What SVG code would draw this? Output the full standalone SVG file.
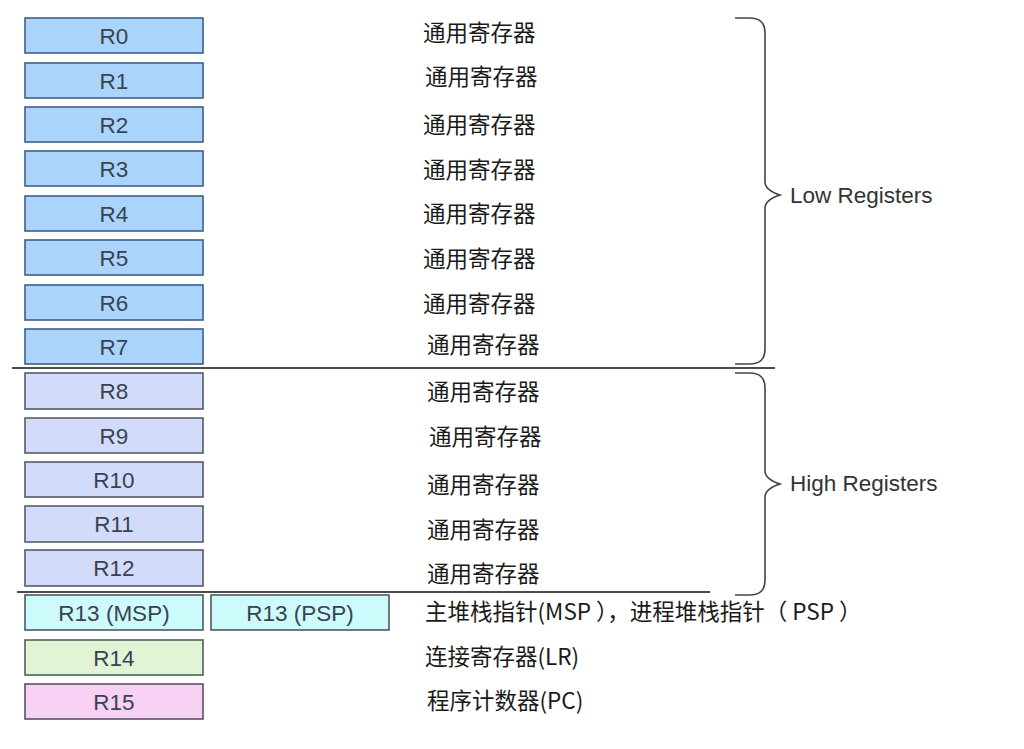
<svg xmlns="http://www.w3.org/2000/svg" width="1024" height="749" viewBox="0 0 1024 749">
<style>
.box{stroke-width:1.6}
.low{fill:#aad4fc;stroke:#3b5f86}
.high{fill:#d2dcfa;stroke:#555a66}
.sp{fill:#cdfafa;stroke:#4a5a66}
.lr{fill:#e1f4d6;stroke:#55605a}
.pc{fill:#f6d1f4;stroke:#5a5060}
.lbl{font-family:"Liberation Sans",Arial,sans-serif;font-size:22.5px;fill:#3a4250;text-anchor:middle}
.desc{font-family:"Noto Sans CJK SC","Noto Sans",sans-serif;font-size:22.5px;fill:#1a1a1a}
.grp{font-family:"Liberation Sans",Arial,sans-serif;font-size:22.5px;fill:#333}
.brace{fill:none;stroke:#444;stroke-width:1.6}
.sep{stroke:#111;stroke-width:1.5}
</style>
<rect width="1024" height="749" fill="#fff"/>
<g id="r0"><rect class="box low" x="25" y="18" width="178" height="35"/><text class="lbl" x="114" y="44">R0</text><text class="desc" x="423" y="41">通用寄存器</text></g>
<g id="r1"><rect class="box low" x="25" y="63" width="178" height="35"/><text class="lbl" x="114" y="89">R1</text><text class="desc" x="425" y="85">通用寄存器</text></g>
<g id="r2"><rect class="box low" x="25" y="107" width="178" height="35"/><text class="lbl" x="114" y="133">R2</text><text class="desc" x="423" y="133">通用寄存器</text></g>
<g id="r3"><rect class="box low" x="25" y="151" width="178" height="35"/><text class="lbl" x="114" y="177">R3</text><text class="desc" x="423" y="178">通用寄存器</text></g>
<g id="r4"><rect class="box low" x="25" y="196" width="178" height="35"/><text class="lbl" x="114" y="222">R4</text><text class="desc" x="423" y="222">通用寄存器</text></g>
<g id="r5"><rect class="box low" x="25" y="240" width="178" height="35"/><text class="lbl" x="114" y="266">R5</text><text class="desc" x="423" y="267">通用寄存器</text></g>
<g id="r6"><rect class="box low" x="25" y="285" width="178" height="35"/><text class="lbl" x="114" y="311">R6</text><text class="desc" x="423" y="312">通用寄存器</text></g>
<g id="r7"><rect class="box low" x="25" y="329" width="178" height="35"/><text class="lbl" x="114" y="355">R7</text><text class="desc" x="427" y="353">通用寄存器</text></g>
<g id="r8"><rect class="box high" x="25" y="373" width="178" height="36"/><text class="lbl" x="114" y="399">R8</text><text class="desc" x="427" y="400">通用寄存器</text></g>
<g id="r9"><rect class="box high" x="25" y="418" width="178" height="35"/><text class="lbl" x="114" y="444">R9</text><text class="desc" x="429" y="445">通用寄存器</text></g>
<g id="r10"><rect class="box high" x="25" y="462" width="178" height="35"/><text class="lbl" x="114" y="488">R10</text><text class="desc" x="427" y="493">通用寄存器</text></g>
<g id="r11"><rect class="box high" x="25" y="506" width="178" height="36"/><text class="lbl" x="114" y="532">R11</text><text class="desc" x="427" y="538">通用寄存器</text></g>
<g id="r12"><rect class="box high" x="25" y="550" width="178" height="36"/><text class="lbl" x="114" y="576">R12</text><text class="desc" x="427" y="582">通用寄存器</text></g>
<g id="r13msp"><rect class="box sp" x="25" y="595" width="178" height="35"/><text class="lbl" x="114" y="621">R13 (MSP)</text></g>
<g id="r13psp"><rect class="box sp" x="211" y="595" width="178" height="35"/><text class="lbl" x="300" y="621">R13 (PSP)</text></g>
<g id="r13desc"><text class="desc" x="425" y="620">主堆栈指针(MSP ），进程堆栈指针（ PSP ）</text></g>
<g id="r14"><rect class="box lr" x="25" y="640" width="178" height="35"/><text class="lbl" x="114" y="666">R14</text><text class="desc" x="425" y="665">连接寄存器(LR)</text></g>
<g id="r15"><rect class="box pc" x="25" y="684" width="178" height="35"/><text class="lbl" x="114" y="710">R15</text><text class="desc" x="427" y="709">程序计数器(PC)</text></g>
<g id="lowgroup"><path class="brace" d="M735,18 H750 Q765,18 765,33 V182 Q765,190 780,195 Q765,200 765,208 V349 Q765,364 750,364 H735"/><text class="grp" x="790" y="203">Low Registers</text></g>
<g id="highgroup"><path class="brace" d="M735,373 H750 Q765,373 765,388 V471 Q765,479 780,484 Q765,489 765,497 V580 Q765,595 750,595 H735"/><text class="grp" x="790" y="491">High Registers</text></g>
<g id="connectors"><line class="sep" x1="12" y1="368" x2="775" y2="368"/><line class="sep" x1="17" y1="592" x2="710" y2="592"/></g>
</svg>
